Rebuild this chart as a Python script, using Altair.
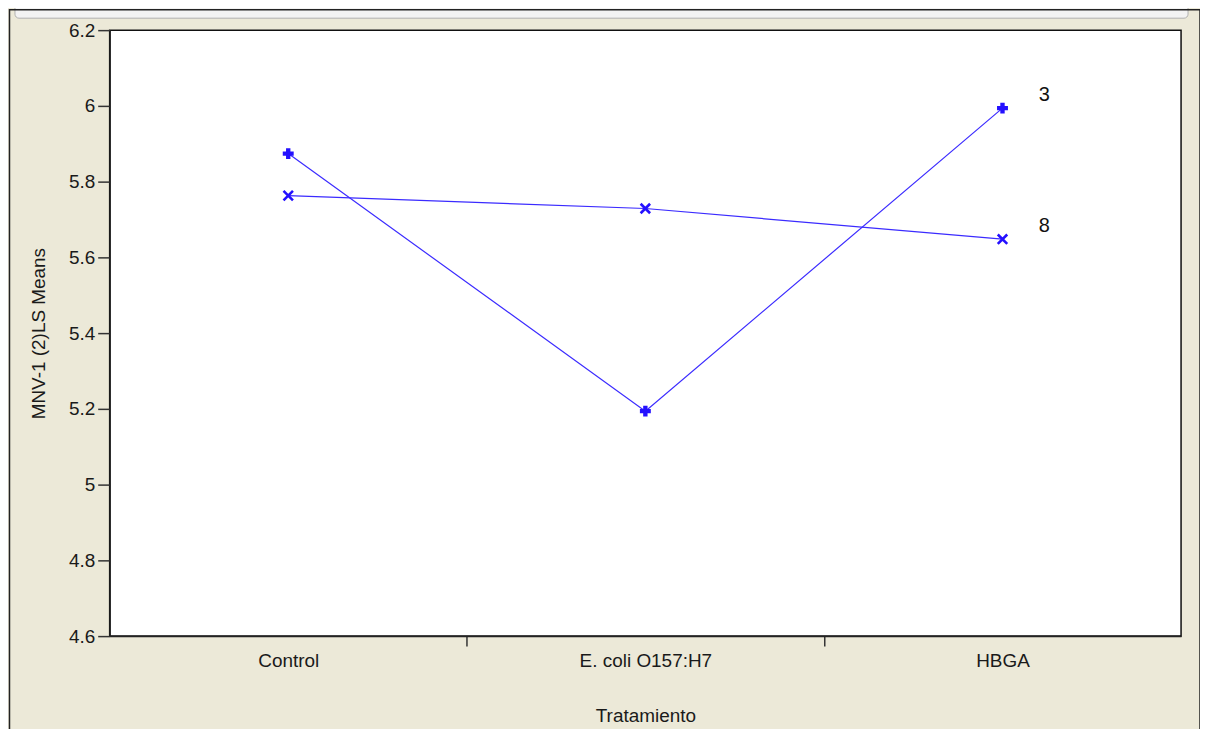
import altair as alt
import pandas as pd

categories = ["Control", "E. coli O157:H7", "HBGA"]
series_names = ["3", "8"]
values_3 = [5.874, 5.194, 5.994]
values_8 = [5.763, 5.729, 5.648]
y_ticks = [4.6, 4.8, 5.0, 5.2, 5.4, 5.6, 5.8, 6.0, 6.2]

rows = []
for s, vals in zip(series_names, [values_3, values_8]):
    for i, (c, v) in enumerate(zip(categories, vals)):
        rows.append({"series": s, "cat": c, "idx": i, "value": v})
df = pd.DataFrame(rows)
last = df[df["idx"] == len(categories) - 1]

FONT = "Liberation Sans"
LINE = "#3B2BFF"
MARK = "#2410FF"

label_expr = " : ".join(
    [f"datum.value == {i} ? '{c}'" for i, c in enumerate(categories)]
) + " : ''"
x_ticks = [0, 0.5, 1, 1.5, 2]

xscale = alt.Scale(domain=[-0.5, 2.5], nice=False, zero=False)
yscale = alt.Scale(domain=[4.6, 6.2], nice=False, zero=False)

xenc = alt.X(
    "idx:Q",
    scale=xscale,
    title="Tratamiento",
    axis=alt.Axis(
        values=x_ticks,
        labelExpr=label_expr,
        grid=False,
        tickSize=10,
        tickOpacity={"condition": {"test": "datum.value % 1 == 0", "value": 0}, "value": 1},
        labelOverlap=False,
        labelFlush=False,
        labelPadding=6,
        titlePadding=36,
    ),
)
yenc = alt.Y(
    "value:Q",
    scale=yscale,
    title="MNV-1 (2)LS Means",
    axis=alt.Axis(
        values=y_ticks,
        format=".1~f",
        grid=False,
        tickSize=12,
        labelPadding=3,
        titlePadding=20,
    ),
)

base = alt.Chart(df)

lines = base.mark_line(color=LINE, strokeWidth=1.2).encode(
    x=xenc, y=yenc, detail="series:N"
)
plus_pts = base.transform_filter("datum.series == '3'").mark_point(
    shape="cross", size=120, filled=True, color=MARK, opacity=1
).encode(x="idx:Q", y="value:Q")
x_pts = base.transform_filter("datum.series == '8'").mark_point(
    shape="M-1,-1L1,1M-1,1L1,-1", size=90, filled=False, color=MARK,
    strokeWidth=2.6, opacity=1
).encode(x="idx:Q", y="value:Q")
labels = alt.Chart(last).mark_text(
    dx=42, dy=-13, font=FONT, fontSize=20, color="#111", align="center", baseline="middle"
).encode(x="idx:Q", y="value:Q", text="series:N")

one = pd.DataFrame({"a": [0]})
topbar = alt.Chart(one).mark_rect(
    fill="#F3F3F3", stroke="#AFAFAF", strokeWidth=1, cornerRadius=4
).encode(x=alt.value(-95), x2=alt.value(1082), y=alt.value(-30), y2=alt.value(-12))
frame = alt.Chart(one).mark_rect(
    fill="transparent", stroke="#222", strokeWidth=1.5
).encode(x=alt.value(-100.5), x2=alt.value(1094), y=alt.value(-20.5), y2=alt.value(720))

chart = (
    alt.layer(topbar, frame, lines, plus_pts, x_pts, labels)
    .properties(
        width=1075,
        height=608,
        autosize=alt.AutoSizeParams(type="none"),
        padding={"left": 102, "top": 21, "right": 19, "bottom": 92},
        background="#ECE9D8",
    )
    .configure_view(fill="white", stroke="#111", strokeWidth=1.5)
    .configure_axis(
        labelFont=FONT,
        labelFontSize=19,
        labelColor="#1a1a1a",
        titleFont=FONT,
        titleFontSize=19,
        titleFontWeight="normal",
        titleColor="#1a1a1a",
        domainColor="#222",
        domainWidth=1.5,
        tickColor="#333",
        tickWidth=1.5,
    )
)

chart.save("out.html", embed_options={"renderer": "svg", "actions": False})
